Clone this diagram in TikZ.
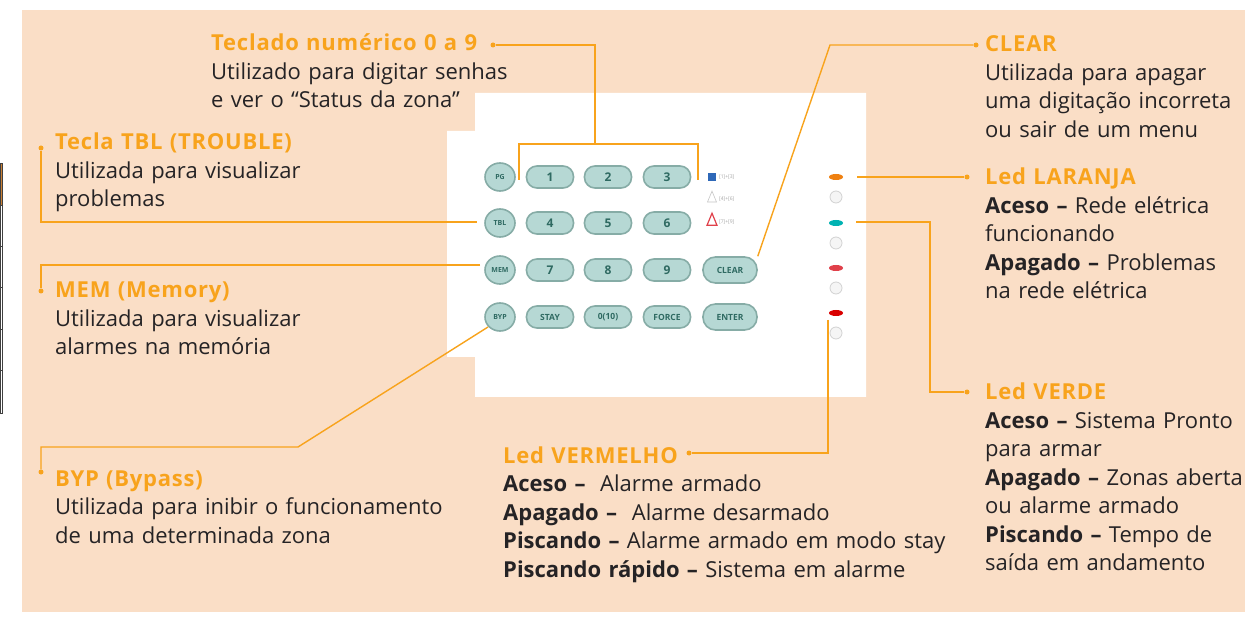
\documentclass[tikz,border=0pt]{standalone}
\usepackage{fontspec}
\setmainfont{Open Sans}
\newfontfamily\hdfont[LetterSpace=3.5]{Open Sans}
\usetikzlibrary{shapes.geometric}
\definecolor{peach}{HTML}{FADEC6}
\definecolor{org}{HTML}{F8A31C}
\definecolor{txt}{HTML}{252325}
\definecolor{keyfill}{HTML}{B6D8D4}
\definecolor{keyedge}{HTML}{86ACA6}
\definecolor{keytxt}{HTML}{2F6A62}
\definecolor{iconred}{HTML}{E0404A}
\definecolor{iconblue}{HTML}{2E68B8}
\newcommand{\hd}[1]{{\hdfont\textcolor{org}{\textbf{#1}}}}
\begin{document}
\begin{tikzpicture}[x=1pt,y=-1pt,
  conn/.style={draw=org, line width=1.4pt},
  cdot/.style={circle, fill=org, inner sep=0pt, minimum size=5pt},
  blk/.style={anchor=base west, inner sep=0pt, text width=470pt, align=left,
    font=\fontsize{22}{28.5}\selectfont, text=txt},
  skey/.style={ellipse, fill=keyfill, draw=keyedge, line width=1.6pt, inner sep=0pt,
    minimum width=30pt, minimum height=28pt, text=keytxt, font=\bfseries\fontsize{7}{7}\selectfont},
  nkey/.style={rectangle, rounded corners=10.5pt, fill=keyfill, draw=keyedge, line width=1.6pt, inner sep=0pt,
    minimum width=47pt, minimum height=22pt, text=keytxt, font=\bfseries\fontsize{12}{12}\selectfont},
  wkey/.style={nkey, rounded corners=12.5pt, minimum width=54pt, minimum height=26pt},
  tkey/.style={nkey, font=\bfseries\fontsize{8.5}{8.5}\selectfont},
  led/.style={ellipse, inner sep=0pt, minimum width=14pt, minimum height=6pt},
  ledicon/.style={circle, inner sep=0pt, minimum size=12pt, fill=gray!8, draw=gray!35, line width=0.8pt},
  tiny/.style={anchor=west, inner sep=0pt, text=gray!70, font=\fontsize{5}{5}\selectfont}
]
\useasboundingbox (0,0) rectangle (1245,617);
% background
\fill[peach] (22,10) rectangle (1245,612);
% table fragment at left edge
\fill[white] (0,163) rectangle (3,413);
\fill[brown!80!orange] (0,163) rectangle (3,205);
\draw[line width=0.8pt, draw=black!75] (0.4,163) rectangle (2.8,413);
\foreach \yy in {205,246,287,329,370}{\draw[line width=0.8pt, draw=black!75] (0,\yy) -- (3,\yy);}
% keypad panel
\fill[white] (475,93) -- (866,93) -- (866,397) -- (475,397) -- (475,357) -- (447,357) -- (447,131) -- (475,131) -- cycle;
% keys
\node[skey] (kpg) at (500,177) {PG};
\node[skey] (ktbl) at (500,223) {TBL};
\node[skey] (kmem) at (500,270) {MEM};
\node[skey] (kbyp) at (500,317) {BYP};
\node[nkey] (k1) at (550,177) {1};
\node[nkey] (k2) at (608,177) {2};
\node[nkey] (k3) at (667,177) {3};
\node[nkey] (k4) at (550,223) {4};
\node[nkey] (k5) at (608,223) {5};
\node[nkey] (k6) at (667,223) {6};
\node[nkey] (k7) at (550,270) {7};
\node[nkey] (k8) at (608,270) {8};
\node[nkey] (k9) at (667,270) {9};
\node[wkey, font=\bfseries\fontsize{8.5}{8.5}\selectfont] (kclear) at (730,270) {CLEAR};
\node[tkey] (kstay) at (550,317) {STAY};
\node[tkey] (k0) at (608,317) {0(10)};
\node[tkey] (kforce) at (667,317) {FORCE};
\node[wkey, font=\bfseries\fontsize{8.5}{8.5}\selectfont] (kenter) at (730,317) {ENTER};
% icons
\node[fill=iconblue, inner sep=0pt, minimum size=8pt] (ic1) at (712,177) {};
\node[tiny] (t1) at (719,177) {[1]+[3]};
\node[draw=gray!45, isosceles triangle, shape border rotate=90, inner sep=0pt, minimum size=9pt, line width=0.6pt] (ic2) at (712,199) {};
\node[tiny] (t2) at (719,199) {[4]+[6]};
\node[draw=iconred, isosceles triangle, shape border rotate=90, inner sep=0pt, minimum size=10pt, line width=1.2pt] (ic3) at (712,222) {};
\node[tiny] (t3) at (719,222) {[7]+[9]};
% leds
\node[led, fill=orange!75!brown] (l1) at (836,177) {};
\node[ledicon] (li1) at (836,197) {};
\node[led, fill=teal!60!cyan] (l2) at (836,223) {};
\node[ledicon] (li2) at (836,243) {};
\node[led, fill=iconred] (l3) at (836,268) {};
\node[ledicon] (li3) at (836,288) {};
\node[led, fill=red!85!black] (l4) at (836,313) {};
\node[ledicon] (li4) at (836,333) {};
% texts
\node[blk] (tTec) at (211,51) {\hd{Teclado numérico 0 a 9}\\Utilizado para digitar senhas\\e ver o “Status da zona”};
\node[blk] (tTbl) at (55,150) {\hd{Tecla TBL (TROUBLE)}\\Utilizada para visualizar\\problemas};
\node[blk] (tMem) at (55,298) {\hd{MEM (Memory)}\\Utilizada para visualizar\\alarmes na memória};
\node[blk] (tByp) at (55,486) {\hd{BYP (Bypass)}\\Utilizada para inibir o funcionamento\\de uma determinada zona};
\node[blk] (tClr) at (985,52) {\hd{CLEAR}\\Utilizada para apagar\\uma digitação incorreta\\ou sair de um menu};
\node[blk] (tLar) at (985,185) {\hd{Led LARANJA}\\\textbf{Aceso –} Rede elétrica\\funcionando\\\textbf{Apagado –} Problemas\\na rede elétrica};
\node[blk] (tVer) at (985,400) {\hd{Led VERDE}\\\textbf{Aceso –} Sistema Pronto\\para armar\\\textbf{Apagado –} Zonas aberta\\ou alarme armado\\\textbf{Piscando –} Tempo de\\saída em andamento};
\node[blk] (tVrm) at (503,463) {\hd{Led VERMELHO}\\\textbf{Aceso –}\ \ Alarme armado\\\textbf{Apagado –}\ \ Alarme desarmado\\\textbf{Piscando –} Alarme armado em modo stay\\\textbf{Piscando rápido –} Sistema em alarme};
% dots
\node[cdot] (dTec) at (493,45) {};
\node[cdot] (dClr) at (976,45) {};
\node[cdot] (dLar) at (967,177) {};
\node[cdot] (dVer) at (967,392) {};
\node[cdot] (dVrm) at (689,453) {};
\node[cdot] (dTbl) at (41,148) {};
\node[cdot] (dMem) at (41,291) {};
\node[cdot] (dByp) at (41,472) {};
% connector coordinates
\coordinate (cTecBr) at (595,144);
\coordinate (cBrL) at (519,180);
\coordinate (cBrR) at (698,180);
\coordinate (cClrB) at (830,45);
\coordinate (cLar) at (857,177);
\coordinate (cVer) at (856,222);
\coordinate (cVerB) at (930,222);
\coordinate (cVrm) at (828,320);
\coordinate (cTbl) at (477,222);
\coordinate (cMem) at (480,265);
\coordinate (cByp) at (488,327);
\coordinate (cBypB) at (298,447);
% connectors
\draw[conn] (dTec) -| (cTecBr);
\draw[conn] (cBrL) |- (cTecBr) -| (cBrR);
\draw[conn] (dClr) -- (cClrB) -- (kclear.north east);
\draw[conn] (cLar) -- (dLar);
\draw[conn] (cVer) -- (cVerB) |- (dVer);
\draw[conn] (cVrm) |- (dVrm);
\draw[conn] (dTbl) |- (cTbl);
\draw[conn] (cMem) -| (dMem);
\draw[conn] (cByp) -- (cBypB) -| (dByp);
\end{tikzpicture}
\end{document}
